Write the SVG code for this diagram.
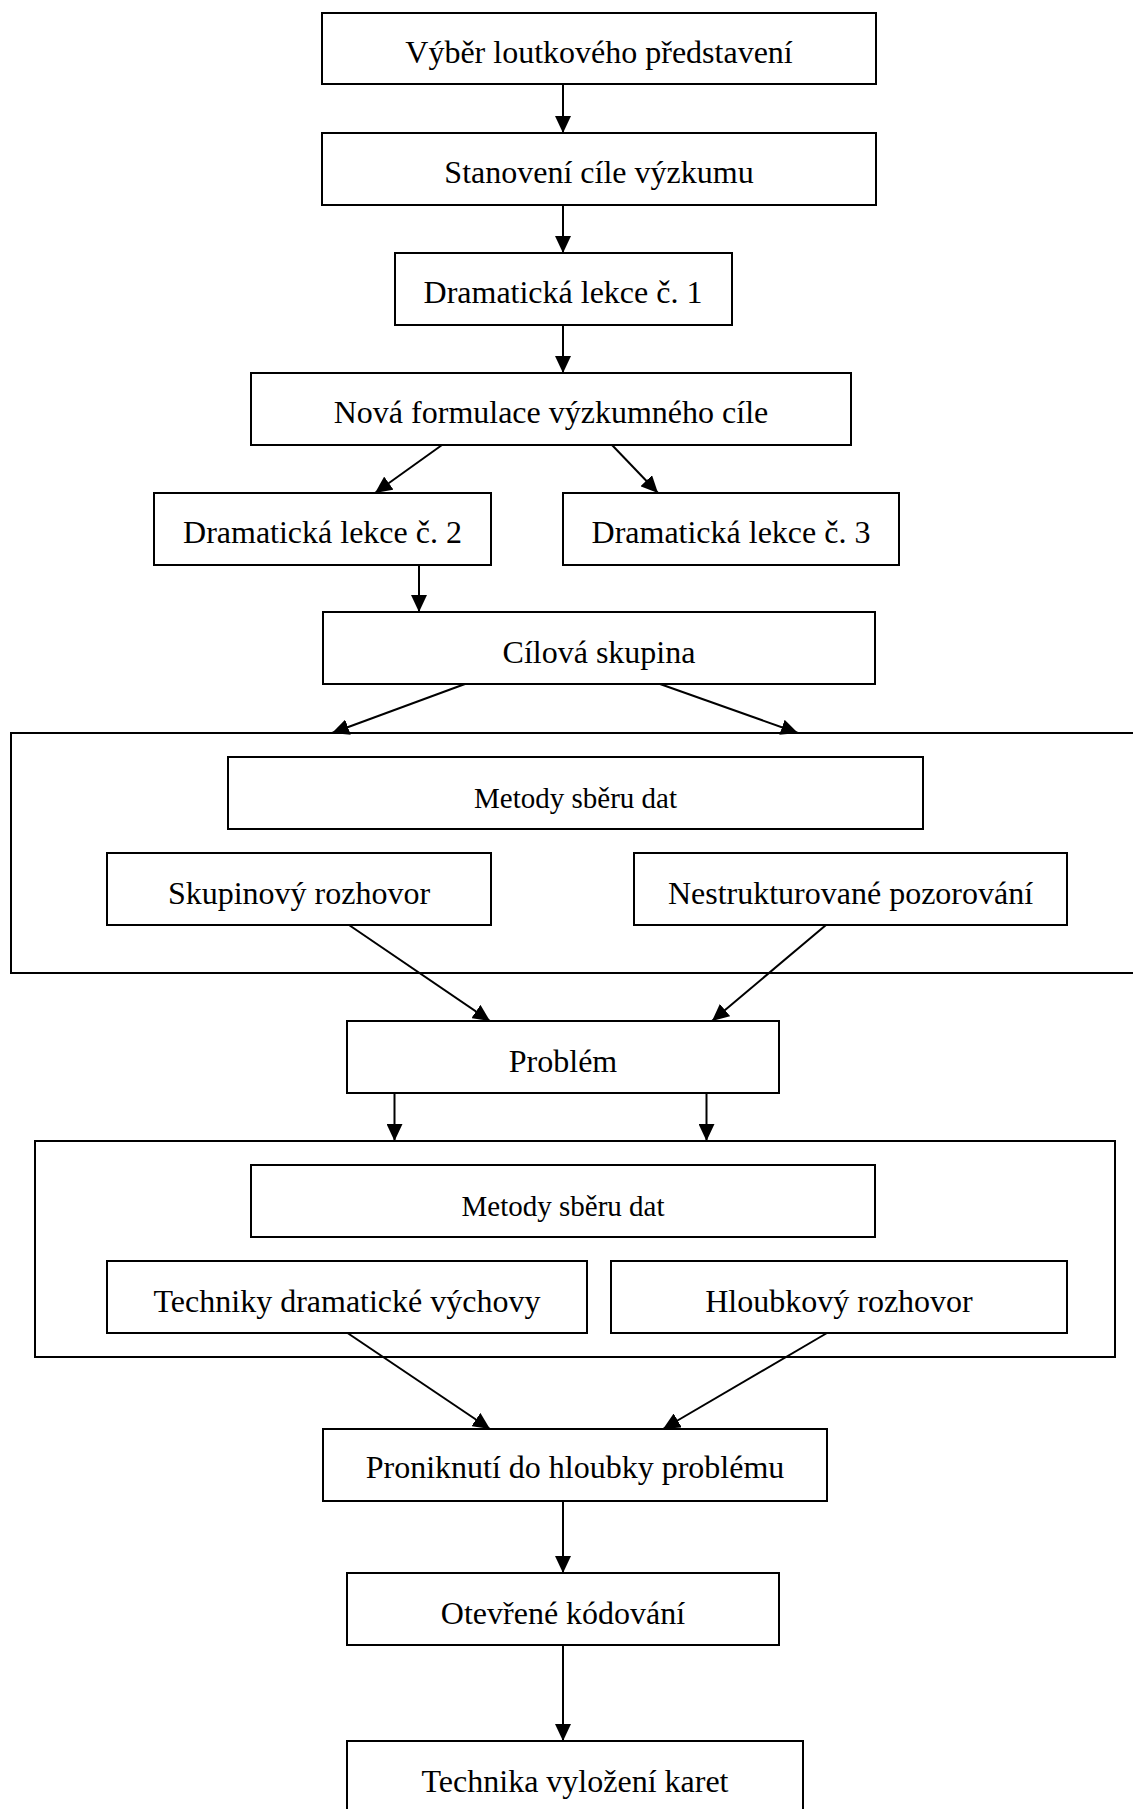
<svg xmlns="http://www.w3.org/2000/svg" width="1133" height="1809" viewBox="0 0 1133 1809">
<style>
.box{fill:#fff;stroke:#000;stroke-width:2}
.cont{fill:none;stroke:#000;stroke-width:2}
.t{font-family:"Liberation Serif","Times New Roman",serif;font-size:32px;text-anchor:middle;fill:#000}
.s{font-size:29px}
.c{stroke:#000;stroke-width:2;fill:none;marker-end:url(#ah)}
</style>
<defs>
<marker id="ah" markerUnits="userSpaceOnUse" markerWidth="18" markerHeight="16" refX="17" refY="8" orient="auto">
<path d="M0,0 L17,8 L0,16 z" fill="#000"/>
</marker>
</defs>
<rect width="1133" height="1809" fill="#fff"/>
<g id="container1"><rect class="cont" x="11" y="733" width="1140" height="240"/></g>
<g id="container2"><rect class="cont" x="35" y="1141" width="1080" height="216"/></g>
<g id="n1"><rect class="box" x="322" y="13" width="554" height="71"/><text class="t" x="599" y="63">Výběr loutkového představení</text></g>
<g id="n2"><rect class="box" x="322" y="133" width="554" height="72"/><text class="t" x="599" y="183">Stanovení cíle výzkumu</text></g>
<g id="n3"><rect class="box" x="395" y="253" width="337" height="72"/><text class="t" x="563" y="303">Dramatická lekce č. 1</text></g>
<g id="n4"><rect class="box" x="251" y="373" width="600" height="72"/><text class="t" x="551" y="423">Nová formulace výzkumného cíle</text></g>
<g id="n5"><rect class="box" x="154" y="493" width="337" height="72"/><text class="t" x="322.5" y="543">Dramatická lekce č. 2</text></g>
<g id="n6"><rect class="box" x="563" y="493" width="336" height="72"/><text class="t" x="731" y="543">Dramatická lekce č. 3</text></g>
<g id="n7"><rect class="box" x="323" y="612" width="552" height="72"/><text class="t" x="599" y="663">Cílová skupina</text></g>
<g id="n8"><rect class="box" x="228" y="757" width="695" height="72"/><text class="t s" x="575.5" y="808">Metody sběru dat</text></g>
<g id="n9"><rect class="box" x="107" y="853" width="384" height="72"/><text class="t" x="299" y="904">Skupinový rozhovor</text></g>
<g id="n10"><rect class="box" x="634" y="853" width="433" height="72"/><text class="t" x="850.5" y="904">Nestrukturované pozorování</text></g>
<g id="n11"><rect class="box" x="347" y="1021" width="432" height="72"/><text class="t" x="563" y="1072">Problém</text></g>
<g id="n12"><rect class="box" x="251" y="1165" width="624" height="72"/><text class="t s" x="563" y="1216">Metody sběru dat</text></g>
<g id="n13"><rect class="box" x="107" y="1261" width="480" height="72"/><text class="t" x="347" y="1312">Techniky dramatické výchovy</text></g>
<g id="n14"><rect class="box" x="611" y="1261" width="456" height="72"/><text class="t" x="839" y="1312">Hloubkový rozhovor</text></g>
<g id="n15"><rect class="box" x="323" y="1429" width="504" height="72"/><text class="t" x="575" y="1478">Proniknutí do hloubky problému</text></g>
<g id="n16"><rect class="box" x="347" y="1573" width="432" height="72"/><text class="t" x="563" y="1624">Otevřené kódování</text></g>
<g id="n17"><rect class="box" x="347" y="1741" width="456" height="90"/><text class="t" x="575" y="1792">Technika vyložení karet</text></g>
<g id="connectors">
<line class="c" x1="563" y1="84" x2="563" y2="133"/>
<line class="c" x1="563" y1="205" x2="563" y2="253"/>
<line class="c" x1="563" y1="325" x2="563" y2="373"/>
<line class="c" x1="442" y1="445" x2="375" y2="493"/>
<line class="c" x1="612" y1="445" x2="658" y2="493"/>
<line class="c" x1="419" y1="565" x2="419" y2="612"/>
<line class="c" x1="465" y1="684" x2="332" y2="733"/>
<line class="c" x1="660" y1="684" x2="798" y2="733"/>
<line class="c" x1="349" y1="925" x2="490" y2="1021"/>
<line class="c" x1="826" y1="925" x2="712" y2="1021"/>
<line class="c" x1="394.5" y1="1093" x2="394.5" y2="1141"/>
<line class="c" x1="706.5" y1="1093" x2="706.5" y2="1141"/>
<line class="c" x1="347.5" y1="1333" x2="490" y2="1429"/>
<line class="c" x1="827" y1="1333" x2="663" y2="1429"/>
<line class="c" x1="563" y1="1501" x2="563" y2="1573"/>
<line class="c" x1="563" y1="1645" x2="563" y2="1741"/>
</g>
</svg>
